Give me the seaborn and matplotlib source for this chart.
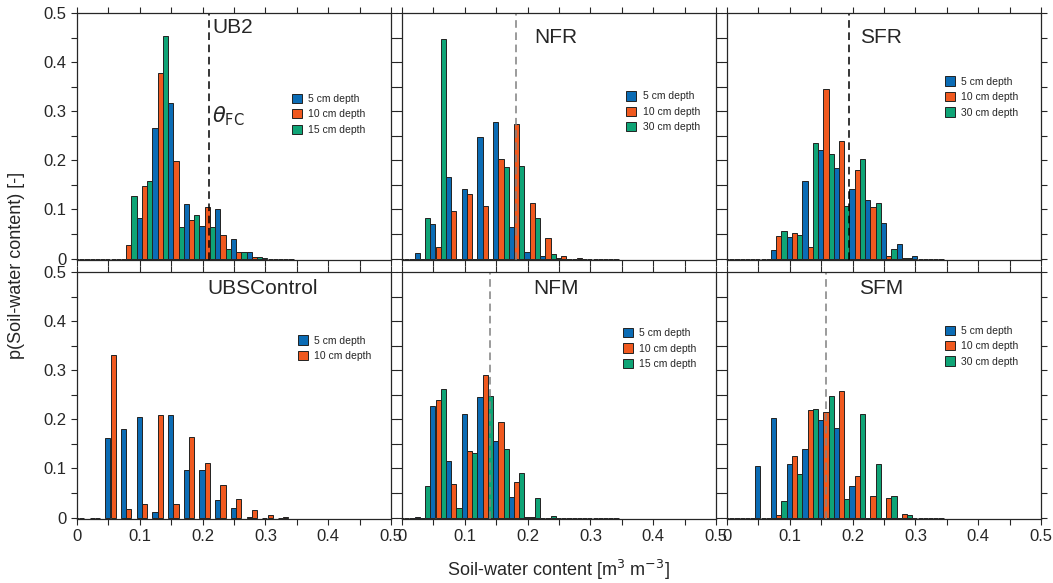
import numpy as np
import matplotlib
matplotlib.use("Agg")
import matplotlib.pyplot as plt
import seaborn as sns

sns.set_style("ticks")
plt.rcParams['font.family'] = ['Liberation Sans', 'DejaVu Sans']

# bin centres of the histograms (0.025 wide bins)
centers = np.round(0.0075 + 0.025 * np.arange(14), 4)

# ---- data (probability per bin), bins start at 0.0075
ub2_5 = [0, 0, 0, 0, 0.082, 0.265, 0.316, 0.111, 0.066, 0.101, 0.039, 0.014, 0.002, 0]
ub2_10 = [0, 0, 0, 0.027, 0.147, 0.378, 0.198, 0.078, 0.105, 0.047, 0.014, 0.003, 0, 0]
ub2_15 = [0, 0, 0, 0.128, 0.158, 0.454, 0.064, 0.089, 0.064, 0.020, 0.014, 0.004, 0, 0]

nfr_5 = [0, 0.011, 0.070, 0.166, 0.141, 0.248, 0.279, 0.064, 0.014, 0.005, 0.002, 0, 0, 0]
nfr_10 = [0, 0, 0.024, 0.097, 0.131, 0.107, 0.202, 0.274, 0.113, 0.042, 0.005, 0.002, 0, 0]
nfr_30 = [0, 0.082, 0.447, 0, 0, 0, 0.186, 0.188, 0.082, 0.009, 0, 0, 0, 0]

sfr_5 = [0, 0, 0, 0.017, 0.044, 0.157, 0.221, 0.184, 0.142, 0.119, 0.073, 0.030, 0.005, 0]
sfr_10 = [0, 0, 0, 0.046, 0.052, 0.024, 0.345, 0.239, 0.180, 0.104, 0.005, 0.001, 0, 0]
sfr_30 = [0, 0, 0, 0.056, 0.047, 0.236, 0.212, 0.107, 0.203, 0.113, 0.020, 0.001, 0, 0]

ubs_5 = [0, 0, 0.161, 0.180, 0.205, 0.011, 0.209, 0.097, 0.096, 0.036, 0.020, 0.002, 0, 0]
ubs_10 = [0, 0, 0.331, 0.018, 0.028, 0.209, 0.028, 0.165, 0.111, 0.066, 0.037, 0.016, 0.005, 0.001]

nfm_5 = [0, 0.002, 0.228, 0.116, 0.211, 0.246, 0.156, 0.042, 0.001, 0, 0, 0, 0, 0]
nfm_10 = [0, 0, 0.239, 0.068, 0.136, 0.290, 0.195, 0.073, 0.002, 0, 0, 0, 0, 0]
nfm_15 = [0, 0.064, 0.261, 0.020, 0.132, 0.248, 0.140, 0.091, 0.039, 0.004, 0, 0, 0, 0]

sfm_5 = [0, 0, 0.104, 0.203, 0.109, 0.140, 0.199, 0.182, 0.065, 0, 0, 0, 0, 0]
sfm_10 = [0, 0, 0, 0.005, 0.126, 0.218, 0.215, 0.258, 0.085, 0.043, 0.039, 0.008, 0, 0]
sfm_30 = [0, 0, 0, 0.034, 0.089, 0.222, 0.248, 0.037, 0.211, 0.110, 0.043, 0.006, 0, 0]

colors = ["#0b6cb5", "#f0591f", "#0fa476"]

# name, series, depth labels, field capacity, line colour, title pos, legend anchor
panels = [
    ("UB2", [ub2_5, ub2_10, ub2_15], ["5 cm depth", "10 cm depth", "15 cm depth"], 0.21, "black", (0.43, 0.94, "left"), (0.67, 0.69)),
    ("NFR", [nfr_5, nfr_10, nfr_30], ["5 cm depth", "10 cm depth", "30 cm depth"], 0.182, "grey", (0.49, 0.90, "center"), (0.70, 0.70)),
    ("SFR", [sfr_5, sfr_10, sfr_30], ["5 cm depth", "10 cm depth", "30 cm depth"], 0.195, "black", (0.49, 0.90, "center"), (0.68, 0.76)),
    ("UBSControl", [ubs_5, ubs_10], ["5 cm depth", "10 cm depth"], None, None, (0.59, 0.935, "center"), (0.69, 0.76)),
    ("NFM", [nfm_5, nfm_10, nfm_15], ["5 cm depth", "10 cm depth", "15 cm depth"], 0.1405, "grey", (0.49, 0.935, "center"), (0.69, 0.79)),
    ("SFM", [sfm_5, sfm_10, sfm_30], ["5 cm depth", "10 cm depth", "30 cm depth"], 0.158, "grey", (0.49, 0.935, "center"), (0.68, 0.80)),
]

fig = plt.figure(figsize=(10.53, 5.83), dpi=100)
lefts = [77, 402, 727]
bottoms = [260, 519]
W, H = 1053, 583

bw = 0.025 / 3
for i, (name, series, labels, fc, lc, tpos, lpos) in enumerate(panels):
    r, c = divmod(i, 3)
    ax = fig.add_axes([lefts[c] / W, 1 - bottoms[r] / H, 314 / W, 247 / H])
    for k, vals in enumerate(series):
        x = np.round(centers + (k - 1) * bw, 5)
        sns.barplot(x=x, y=vals, native_scale=True, width=0.33, color=colors[k],
                    edgecolor="#222222", linewidth=0.7, saturation=1, label=labels[k], ax=ax)
    if fc is not None:
        ax.axvline(fc, color=lc, ls=(0, (5, 3)), lw=1.1)
    ax.set_xlim(0, 0.5)
    ax.set_ylim(-0.003, 0.5)
    ax.set_xticks(np.arange(0, 0.51, 0.1))
    ax.set_xticks(np.arange(0.05, 0.5, 0.1), minor=True)
    ax.set_yticks(np.arange(0, 0.51, 0.1))
    ax.set_yticks(np.arange(0.05, 0.5, 0.1), minor=True)
    ax.tick_params(which="both", direction="out", top=True, right=True, length=4, width=0.8,
                   labelsize=12)
    ax.set_xticklabels(["0", "0.1", "0.2", "0.3", "0.4", "0.5"])
    ax.set_yticklabels(["0", "0.1", "0.2", "0.3", "0.4", "0.5"])
    if r == 0:
        ax.tick_params(labelbottom=False)
    if c > 0:
        ax.tick_params(labelleft=False)
    ax.set_xlabel("")
    ax.set_ylabel("")
    for s in ax.spines.values():
        s.set_linewidth(0.9)
    ax.text(tpos[0], tpos[1], name, transform=ax.transAxes, ha=tpos[2], va="center", fontsize=15)
    if name == "UB2":
        ax.text(0.215, 0.29, r"$\theta_{\mathrm{FC}}$", fontsize=15, va="center")
    ax.legend(loc="upper left", bbox_to_anchor=lpos, frameon=False, fontsize=7.5,
              handlelength=1.0, handleheight=1.0, handletextpad=0.6, labelspacing=0.5,
              borderaxespad=0)

fig.text(0.016, 0.545, "p(Soil-water content) [-]", rotation=90, ha="center", va="center", fontsize=13)
fig.text(0.53, 0.022, "Soil-water content [m$^3$ m$^{-3}$]", ha="center", va="center", fontsize=13)

fig.savefig("out.png", dpi=100)
